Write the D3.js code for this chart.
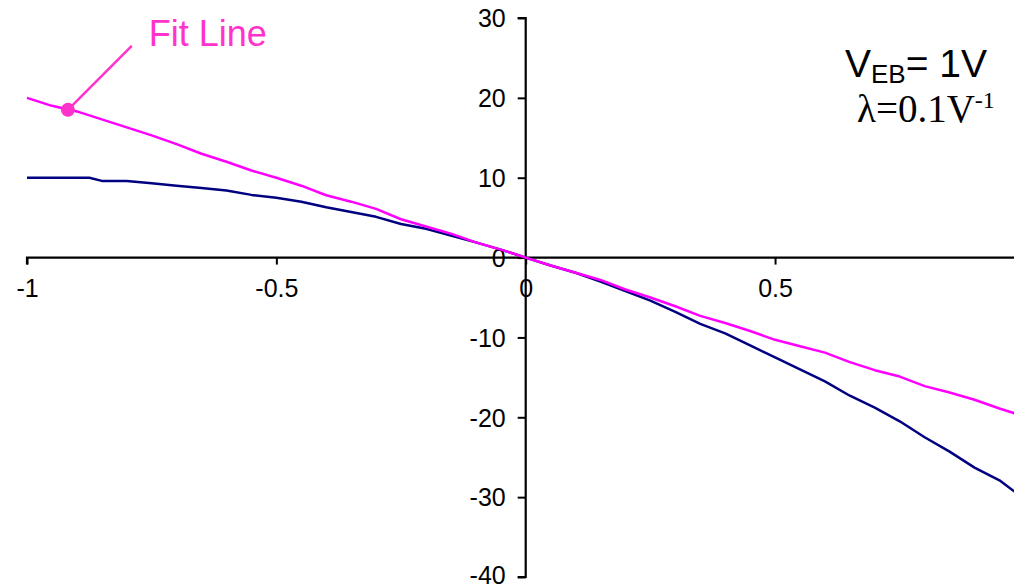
<!DOCTYPE html>
<html><head><meta charset="utf-8">
<script src="https://cdn.jsdelivr.net/npm/d3@7"></script>
<style>
html,body{margin:0;padding:0;background:#fff;}
svg{display:block;}
text{font-family:"Liberation Sans",Arial,sans-serif;}
</style></head>
<body>
<svg id="c" width="1014" height="586"></svg>
<script>
const xTicks = [-1, -0.5, 0, 0.5];
const xTickLabels = ["-1", "-0.5", "0", "0.5"];
const yTicks = [30, 20, 10, 0, -10, -20, -30, -40];
const yTickLabels = ["30", "20", "10", "0", "-10", "-20", "-30", "-40"];

const measX = [-1,-0.95,-0.9,-0.875,-0.85,-0.8,-0.75,-0.7,-0.65,-0.6,-0.55,-0.5,-0.45,-0.4,-0.35,-0.3,-0.25,-0.2,-0.15,-0.1,-0.05,0,0.05,0.1,0.15,0.2,0.25,0.3,0.35,0.4,0.45,0.5,0.55,0.6,0.65,0.7,0.75,0.8,0.85,0.9,0.95,0.98];
const measY = [10,10,10,10,9.6,9.6,9.3,9.0,8.7,8.4,7.85,7.5,7.0,6.3,5.7,5.1,4.2,3.6,2.75,1.9,1.0,0,-1.0,-1.9,-3.0,-4.2,-5.4,-6.8,-8.3,-9.5,-11.0,-12.5,-14.0,-15.5,-17.3,-18.8,-20.5,-22.5,-24.3,-26.3,-27.9,-29.3];

const fitX = [-1,-0.95,-0.9,-0.85,-0.8,-0.75,-0.7,-0.65,-0.6,-0.55,-0.5,-0.45,-0.4,-0.35,-0.3,-0.25,-0.2,-0.15,-0.1,-0.05,0,0.05,0.1,0.15,0.2,0.25,0.3,0.35,0.4,0.45,0.5,0.55,0.6,0.65,0.7,0.75,0.8,0.85,0.9,0.95,0.98];
const fitY = [20,19.0,18.3,17.3,16.3,15.3,14.2,13.0,12.0,10.9,10.0,9.0,7.8,7.0,6.1,4.8,3.9,3.0,1.9,1.0,0,-1.0,-1.9,-2.8,-4.0,-5.0,-6.1,-7.3,-8.2,-9.2,-10.3,-11.1,-11.9,-13.1,-14.1,-14.9,-16.1,-16.9,-17.8,-18.9,-19.5];

const fitLabel = "Fit Line";
const fitMarker = [-0.918, 18.5];
const fitLabelPos = [-0.79, 26.5];

const svg = d3.select("#c");
const x = d3.scaleLinear().domain([-1, 1]).range([27, 1024.4]);
const y = d3.scaleLinear().domain([-40, 30]).range([577, 18]);

// axes
const xAxis = d3.axisBottom(x).tickValues(xTicks).tickFormat((d,i)=>xTickLabels[i]).tickSize(7).tickPadding(0);
const gx = svg.append("g").attr("transform", `translate(0,${y(0)})`).call(xAxis);
gx.select(".domain").attr("d", `M${x(-1)},7V0H1014`).attr("stroke","#000").attr("stroke-width",2.2);
gx.selectAll(".tick line").attr("stroke","#000").attr("stroke-width",2);
gx.selectAll(".tick text").attr("font-size",25).attr("font-family","Liberation Sans, Arial, sans-serif").attr("fill","#000").attr("y",22).attr("dy","0.71em");

const yAxis = d3.axisLeft(y).tickValues(yTicks).tickFormat((d,i)=>yTickLabels[i]).tickSize(8).tickPadding(0);
const gy = svg.append("g").attr("transform", `translate(${x(0)},0)`).call(yAxis);
gy.select(".domain").attr("d", `M-8,${y(30)}H0V${y(-40)}H-8`).attr("stroke","#000").attr("stroke-width",2.2);
gy.selectAll(".tick line").attr("stroke","#000").attr("stroke-width",2);
gy.selectAll(".tick text").attr("font-size",25).attr("font-family","Liberation Sans, Arial, sans-serif").attr("fill","#000").attr("x",-20)
  .attr("dy", d => d === -40 ? "0.25em" : "0.35em");

const line = d3.line().x(d=>x(d[0])).y(d=>y(d[1]));
svg.append("path").datum(d3.zip(measX, measY)).attr("d", line)
  .attr("fill","none").attr("stroke","#000080").attr("stroke-width",2.5).attr("stroke-linejoin","round");
svg.append("path").datum(d3.zip(fitX, fitY)).attr("d", line)
  .attr("fill","none").attr("stroke","#FF00FF").attr("stroke-width",2.5).attr("stroke-linejoin","round");

// annotation
svg.append("line").attr("x1", x(fitMarker[0])).attr("y1", y(fitMarker[1]))
  .attr("x2", x(fitLabelPos[0])).attr("y2", y(fitLabelPos[1]))
  .attr("stroke","#FF33CC").attr("stroke-width",2.5);
svg.append("circle").attr("cx", x(fitMarker[0])).attr("cy", y(fitMarker[1])).attr("r",7).attr("fill","#FF33CC");
svg.append("text").attr("x", x(fitLabelPos[0]) + 17).attr("y", y(fitLabelPos[1]))
  .attr("font-size",36).attr("fill","#FF33CC").text(fitLabel);

// parameter labels
const t1 = svg.append("text").attr("x",845).attr("y",77).attr("font-size",39).attr("fill","#000");
t1.append("tspan").text("V");
t1.append("tspan").attr("font-size",26).attr("dy",6).text("EB");
t1.append("tspan").attr("dy",-6).text("= 1V");
const t2 = svg.append("text").attr("x",857).attr("y",122).attr("font-size",39).attr("fill","#000")
  .style("font-family","'Liberation Serif','Times New Roman',serif");
t2.append("tspan").text("λ=0.1V");
t2.append("tspan").attr("font-size",24).attr("dy",-14).text("-1");
</script>
</body></html>
